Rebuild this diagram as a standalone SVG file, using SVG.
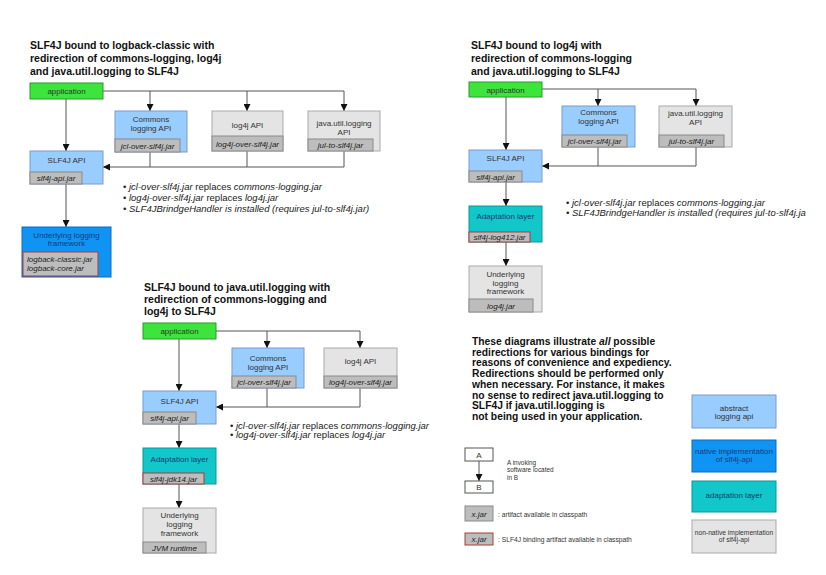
<svg xmlns="http://www.w3.org/2000/svg" width="826" height="575" viewBox="0 0 826 575">
<style>
text{font-family:"Liberation Sans",Arial,sans-serif;fill:#333;}
.title{font-size:10.5px;font-weight:bold;fill:#111;}
.para{font-size:10.3px;font-weight:bold;fill:#111;}
.lbl{font-size:8px;text-anchor:middle;}
.dk{fill:#1d3a78;}
.jt{font-size:8px;font-style:italic;text-anchor:middle;fill:#222;}
.bul{font-size:9.5px;fill:#222;}
.it{font-style:italic;}
.sm{font-size:6.7px;}
.ab{font-size:6.4px;}
.app{fill:#3ce43c;stroke:#2a9a2a;stroke-width:1;}
.api{fill:#99ccff;stroke:#7a9cc8;stroke-width:1;}
.gry{fill:#e4e4e4;stroke:#aaaaaa;stroke-width:1;}
.nat{fill:#1094f4;stroke:#0a6ac0;stroke-width:1;}
.ada{fill:#11c7c9;stroke:#0b9a9a;stroke-width:1;}
.jar{fill:#bdbdbd;stroke:#8a8a8a;stroke-width:1;}
.bind{fill:#bdbdbd;stroke:#b03838;stroke-width:1;}
.wht{fill:#ffffff;stroke:#555;stroke-width:1;}
.c{fill:none;stroke:#555;stroke-width:1;}
.a{marker-end:url(#arr);}
</style>
<defs>
<marker id="arr" viewBox="0 0 8 8" refX="8" refY="4" markerWidth="7" markerHeight="7" markerUnits="userSpaceOnUse" orient="auto">
<path d="M0,0 L8,4 L0,8 z" fill="#111"/>
</marker>
</defs>
<rect width="826" height="575" fill="#ffffff"/>

<!-- Titles -->
<g id="titles">
<text class="title" x="30" y="49">SLF4J bound to logback-classic with</text>
<text class="title" x="30" y="62">redirection of commons-logging, log4j</text>
<text class="title" x="30" y="75">and java.util.logging to SLF4J</text>
<text class="title" x="471" y="49">SLF4J bound to log4j with</text>
<text class="title" x="471" y="62">redirection of commons-logging</text>
<text class="title" x="471" y="75">and java.util.logging to SLF4J</text>
<text class="title" x="144" y="291">SLF4J bound to java.util.logging with</text>
<text class="title" x="144" y="303">redirection of commons-logging and</text>
<text class="title" x="144" y="315">log4j to SLF4J</text>
</g>

<!-- Connectors -->
<g id="connectors">
<path class="c a" d="M103,91 H344 V111"/>
<path class="c a" d="M150,91 V111"/>
<path class="c a" d="M247,91 V111"/>
<path class="c a" d="M66,99 V151"/>
<path class="c" d="M150,152 V167"/>
<path class="c" d="M247,151 V167"/>
<path class="c a" d="M344,151 V167 H103"/>
<path class="c a" d="M66,184 V227"/>

<path class="c a" d="M542,89 H696 V106"/>
<path class="c a" d="M598,89 V106"/>
<path class="c a" d="M506,97 V150"/>
<path class="c" d="M598,147 V166"/>
<path class="c a" d="M696,147 V166 H542"/>
<path class="c a" d="M506,182 V206"/>
<path class="c a" d="M506,242 V266"/>

<path class="c a" d="M216,331 H360 V348"/>
<path class="c a" d="M267,331 V348"/>
<path class="c a" d="M179,339 V391"/>
<path class="c" d="M267,388 V407"/>
<path class="c a" d="M360,388 V407 H216"/>
<path class="c a" d="M179,424 V448"/>
<path class="c a" d="M179,484 V508"/>

<path class="c a" d="M479,461 V481"/>
</g>

<!-- Top-left diagram -->
<g id="app1">
<rect class="app" x="30" y="83" width="73" height="16"/>
<text class="lbl" x="66.5" y="94">application</text>
</g>
<g id="commons1">
<rect class="api" x="115" y="111" width="72" height="41"/>
<text class="lbl" x="151" y="122">Commons</text>
<text class="lbl" x="151" y="131">logging API</text>
<rect class="jar" x="115" y="139" width="65" height="13"/>
<text class="jt" x="147.5" y="148.5">jcl-over-slf4j.jar</text>
</g>
<g id="log4j1">
<rect class="gry" x="212" y="111" width="71" height="40"/>
<text class="lbl" x="247.5" y="128">log4j API</text>
<rect class="jar" x="212" y="136" width="71" height="15"/>
<text class="jt" x="247.5" y="146.5">log4j-over-slf4j.jar</text>
</g>
<g id="jul1">
<rect class="gry" x="308" y="111" width="72" height="40"/>
<text class="lbl" x="344" y="125.5">java.util.logging</text>
<text class="lbl" x="344" y="134.5">API</text>
<rect class="jar" x="308" y="139" width="65" height="12"/>
<text class="jt" x="340.5" y="148">jul-to-slf4j.jar</text>
</g>
<g id="slf4j1">
<rect class="api" x="30" y="151" width="73" height="33"/>
<text class="lbl" x="66.5" y="163">SLF4J API</text>
<rect class="jar" x="30" y="172" width="52" height="12"/>
<text class="jt" x="56" y="181">slf4j-api.jar</text>
</g>
<g id="under1">
<rect class="nat" x="22" y="227" width="89" height="50"/>
<text class="lbl dk" x="66.5" y="238">Underlying logging</text>
<text class="lbl dk" x="66.5" y="246">framework</text>
<rect class="bind" x="23" y="252" width="75" height="24"/>
<text class="jt" x="27" y="262" style="text-anchor:start">logback-classic.jar</text>
<text class="jt" x="27" y="270.5" style="text-anchor:start">logback-core.jar</text>
</g>
<g id="notes1">
<text class="bul" x="123" y="190">• <tspan class="it">jcl-over-slf4j.jar</tspan> replaces <tspan class="it">commons-logging.jar</tspan></text>
<text class="bul" x="123" y="200.5">• <tspan class="it">log4j-over-slf4j.jar</tspan> replaces <tspan class="it">log4j.jar</tspan></text>
<text class="bul it" x="123" y="211.5">• SLF4JBrindgeHandler is installed (requires jul-to-slf4j.jar)</text>
</g>

<!-- Top-right diagram -->
<g id="app2">
<rect class="app" x="469" y="82" width="73" height="15"/>
<text class="lbl" x="505.5" y="92.5">application</text>
</g>
<g id="commons2">
<rect class="api" x="562" y="106" width="73" height="41"/>
<text class="lbl" x="598.5" y="115">Commons</text>
<text class="lbl" x="598.5" y="123.5">logging API</text>
<rect class="jar" x="562" y="135" width="65" height="12"/>
<text class="jt" x="594.5" y="144">jcl-over-slf4j.jar</text>
</g>
<g id="jul2">
<rect class="gry" x="659" y="106" width="73" height="41"/>
<text class="lbl" x="695.5" y="115.5">java.util.logging</text>
<text class="lbl" x="695.5" y="124.5">API</text>
<rect class="jar" x="659" y="135" width="65" height="12"/>
<text class="jt" x="691.5" y="144">jul-to-slf4j.jar</text>
</g>
<g id="slf4j2">
<rect class="api" x="469" y="150" width="73" height="32"/>
<text class="lbl" x="505.5" y="161">SLF4J API</text>
<rect class="jar" x="469" y="171" width="53" height="11"/>
<text class="jt" x="495.5" y="179.5">slf4j-api.jar</text>
</g>
<g id="adapt2">
<rect class="ada" x="469" y="206" width="73" height="36"/>
<text class="lbl dk" x="505.5" y="219">Adaptation layer</text>
<rect class="bind" x="469" y="232" width="61" height="10"/>
<text class="jt" x="499.5" y="240">slf4j-log412.jar</text>
</g>
<g id="under2">
<rect class="gry" x="469" y="266" width="73" height="46"/>
<text class="lbl" x="505.5" y="277">Underlying</text>
<text class="lbl" x="505.5" y="285.5">logging</text>
<text class="lbl" x="505.5" y="294">framework</text>
<rect class="jar" x="469" y="299" width="64" height="13"/>
<text class="jt" x="501" y="308.5">log4j.jar</text>
</g>
<g id="notes2">
<text class="bul" x="566" y="205.5">• <tspan class="it">jcl-over-slf4j.jar</tspan> replaces <tspan class="it">commons-logging.jar</tspan></text>
<text class="bul it" x="566" y="215.5">• SLF4JBrindgeHandler is installed (requires jul-to-slf4j.ja</text>
</g>

<!-- Bottom diagram -->
<g id="app3">
<rect class="app" x="143" y="323" width="73" height="16"/>
<text class="lbl" x="179.5" y="334">application</text>
</g>
<g id="commons3">
<rect class="api" x="232" y="348" width="72" height="40"/>
<text class="lbl" x="268" y="361">Commons</text>
<text class="lbl" x="268" y="370">logging API</text>
<rect class="jar" x="232" y="376" width="64" height="12"/>
<text class="jt" x="264" y="385">jcl-over-slf4j.jar</text>
</g>
<g id="log4j3">
<rect class="gry" x="324" y="348" width="73" height="40"/>
<text class="lbl" x="360.5" y="364">log4j API</text>
<rect class="jar" x="324" y="376" width="73" height="12"/>
<text class="jt" x="360.5" y="385">log4j-over-slf4j.jar</text>
</g>
<g id="slf4j3">
<rect class="api" x="143" y="391" width="73" height="33"/>
<text class="lbl" x="179.5" y="403.5">SLF4J API</text>
<rect class="jar" x="143" y="412" width="53" height="12"/>
<text class="jt" x="169.5" y="421">slf4j-api.jar</text>
</g>
<g id="adapt3">
<rect class="ada" x="143" y="448" width="73" height="36"/>
<text class="lbl dk" x="179.5" y="462">Adaptation layer</text>
<rect class="bind" x="143" y="473" width="61" height="11"/>
<text class="jt" x="173.5" y="481.5">slf4j-jdk14.jar</text>
</g>
<g id="under3">
<rect class="gry" x="143" y="508" width="73" height="45"/>
<text class="lbl" x="179.5" y="518">Underlying</text>
<text class="lbl" x="179.5" y="527">logging</text>
<text class="lbl" x="179.5" y="536">framework</text>
<rect class="jar" x="143" y="542" width="63" height="11"/>
<text class="jt" x="174.5" y="550.5">JVM runtime</text>
</g>
<g id="notes3">
<text class="bul" x="230" y="428.5">• <tspan class="it">jcl-over-slf4j.jar</tspan> replaces <tspan class="it">commons-logging.jar</tspan></text>
<text class="bul" x="230" y="438">• <tspan class="it">log4j-over-slf4j.jar</tspan> replaces <tspan class="it">log4j.jar</tspan></text>
</g>

<!-- Legend -->
<g id="legend-text">
<text class="para" x="472" y="345">These diagrams illustrate <tspan font-style="italic">all</tspan> possible</text>
<text class="para" x="472" y="355.7">redirections for various bindings for</text>
<text class="para" x="472" y="366.4">reasons of convenience and expediency.</text>
<text class="para" x="472" y="377.1">Redirections should be performed only</text>
<text class="para" x="472" y="387.8">when necessary. For instance, it makes</text>
<text class="para" x="472" y="398.5">no sense to redirect java.util.logging to</text>
<text class="para" x="472" y="409.2">SLF4J if java.util.logging is</text>
<text class="para" x="472" y="419.9">not being used in your application.</text>
</g>
<g id="legend-A">
<rect class="wht" x="465" y="448" width="28" height="13"/>
<text class="lbl" x="479" y="457.5">A</text>
</g>
<g id="legend-B">
<rect class="wht" x="465" y="481" width="28" height="12"/>
<text class="lbl" x="479" y="490">B</text>
</g>
<g id="legend-AB-text">
<text class="ab" x="507" y="464.5">A invoking</text>
<text class="ab" x="507" y="472">software located</text>
<text class="ab" x="507" y="479.5">in B</text>
</g>
<g id="legend-jar">
<rect class="jar" x="465" y="506" width="28" height="15"/>
<text class="jt" x="479" y="516.5">x.jar</text>
<text class="sm" x="498" y="516.5">: artifact available in classpath</text>
</g>
<g id="legend-bind">
<rect class="bind" x="465" y="533" width="28" height="12"/>
<text class="jt" x="479" y="542">x.jar</text>
<text class="sm" x="498" y="541.5">: SLF4J binding artifact available in classpath</text>
</g>
<g id="legend-abstract">
<rect class="api" x="692" y="395" width="84" height="33"/>
<text class="lbl" x="734" y="411">abstract</text>
<text class="lbl" x="734" y="419">logging api</text>
</g>
<g id="legend-native">
<rect class="nat" x="692" y="440" width="84" height="32"/>
<text class="lbl dk" x="734" y="454">native implementation</text>
<text class="lbl dk" x="734" y="462">of slf4j-api</text>
</g>
<g id="legend-adapt">
<rect class="ada" x="692" y="481" width="84" height="31"/>
<text class="lbl dk" x="734" y="498">adaptation layer</text>
</g>
<g id="legend-nonnative">
<rect class="gry" x="692" y="520" width="84" height="33"/>
<text class="lbl sm" x="734" y="534.5">non-native implementation</text>
<text class="lbl sm" x="734" y="542">of slf4j-api</text>
</g>
</svg>
